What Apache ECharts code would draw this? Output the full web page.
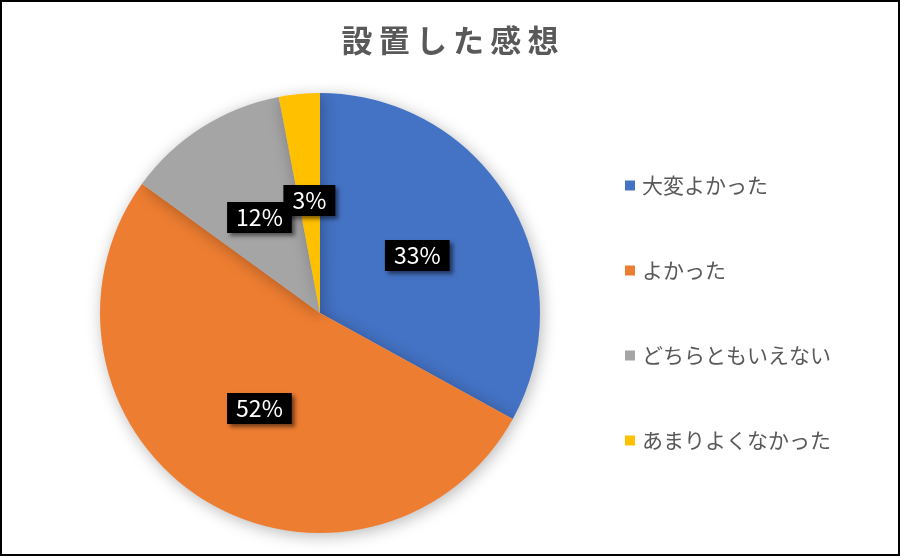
<!DOCTYPE html>
<html>
<head>
<meta charset="utf-8">
<script src="https://cdn.jsdelivr.net/npm/echarts@6/dist/echarts.min.js"></script>
<style>
  html, body { margin: 0; padding: 0; background: #fff; }
  .chart {
    width: 896px;
    height: 552px;
    border: 2px solid #000;
  }
</style>
</head>
<body>
<div id="chart" class="chart"></div>
<script>
// data
const chartTitle = '設置した感想';
const categories = ['大変よかった', 'よかった', 'どちらともいえない', 'あまりよくなかった'];
const percents = [33, 52, 12, 3];
const chartColors = ['#4472C4', '#ED7D31', '#A5A5A5', '#FFC000'];

const font = '"Noto Sans CJK JP", "Noto Sans", sans-serif';

const chartInstance = echarts.init(document.getElementById('chart'));

const option = {
  animation: false,
  color: chartColors,
  title: {
    // spaced out a little like the original
    text: chartTitle.split('').join('\u2009'),
    left: 'center',
    top: 18,
    textStyle: {
      fontFamily: font,
      fontSize: 31,
      fontWeight: 'bold',
      color: '#595959'
    }
  },
  legend: {
    orient: 'vertical',
    left: 618,
    top: 168,
    icon: 'rect',
    itemWidth: 10,
    itemHeight: 10,
    itemGap: 64,
    textStyle: {
      fontFamily: font,
      fontSize: 21,
      color: '#595959',
      padding: [0, 0, 0, 2]
    },
    data: categories
  },
  series: [
    {
      type: 'pie',
      center: [318, 311],
      radius: [0, 220],
      startAngle: 90,
      clockwise: true,
      data: categories.map((name, i) => ({ name, value: percents[i] })),
      itemStyle: {
        shadowBlur: 16,
        shadowColor: 'rgba(0,0,0,0.28)',
        shadowOffsetX: 2,
        shadowOffsetY: 3
      },
      emphasis: { disabled: true },
      labelLine: { show: false },
      labelLayout: { hideOverlap: false },
      label: {
        show: true,
        position: 'inside',
        formatter: '{d}%',
        fontFamily: font,
        fontSize: 23,
        color: '#fff',
        backgroundColor: '#000',
        padding: [5, 9, 3, 9],
        shadowColor: 'rgba(0,0,0,0.5)',
        shadowBlur: 4,
        shadowOffsetX: 3,
        shadowOffsetY: 3
      }
    }
  ]
};
chartInstance.setOption(option);
window.addEventListener('resize', () => chartInstance.resize());
</script>
</body>
</html>
